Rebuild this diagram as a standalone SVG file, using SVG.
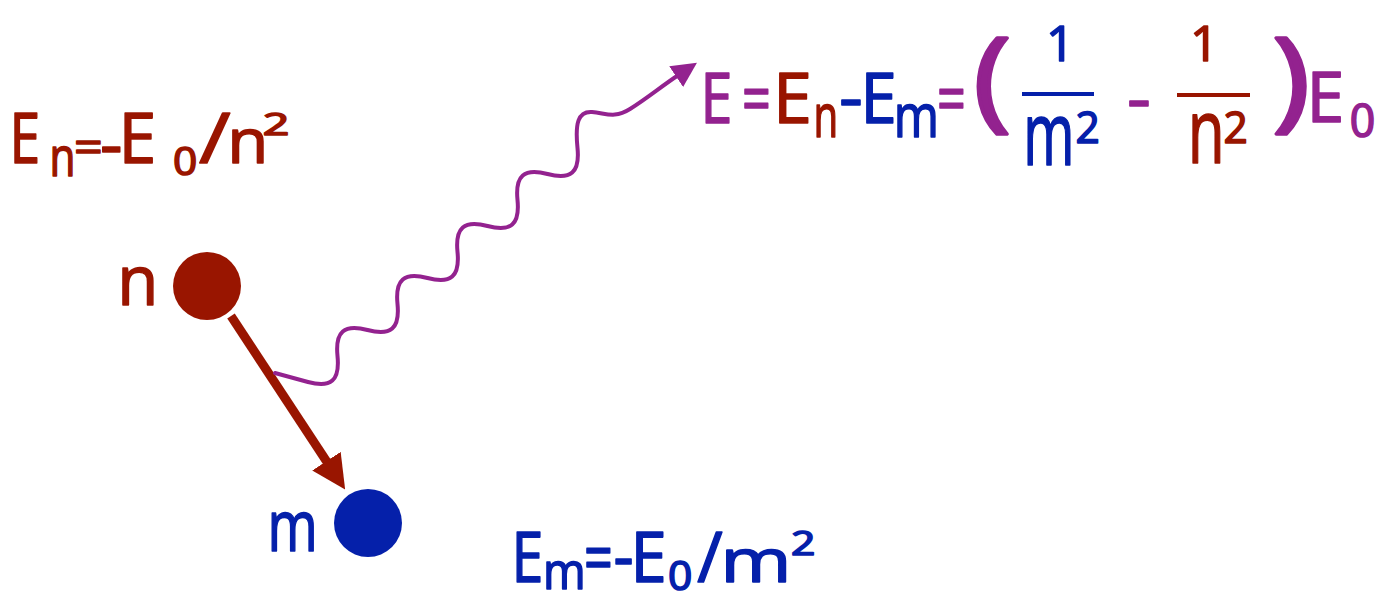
<svg xmlns="http://www.w3.org/2000/svg" width="1398" height="604" viewBox="0 0 1398 604">
<style>
  text { font-family: "Open Sans", "DejaVu Sans", sans-serif; stroke-width: 1.6; stroke-linejoin: round; stroke-linecap: round; }
  .red { fill: #991500; stroke: #991500; }
  .blue { fill: #0520AA; stroke: #0520AA; }
  .pur { fill: #93228F; stroke: #93228F; }
  .paren { stroke-width: 3.5; }
</style>
<defs>
  <marker id="headRed" viewBox="0 0 34 34" refX="1" refY="17" markerWidth="34" markerHeight="34" markerUnits="userSpaceOnUse" orient="auto">
    <path d="M0,0 L34,17 L0,34 z" fill="#991500"/>
  </marker>
  <marker id="headPur" viewBox="0 0 25 25" refX="1" refY="12.5" markerWidth="25" markerHeight="25" markerUnits="userSpaceOnUse" orient="auto">
    <path d="M0,0 L25,12.5 L0,25 z" fill="#93228F"/>
  </marker>
</defs>
<rect width="1398" height="604" fill="#ffffff"/>

<g id="connectors">
  <line id="transition" x1="231" y1="316" x2="327" y2="462" stroke="#991500" stroke-width="9" marker-end="url(#headRed)"/>
  <path id="photon" fill="none" stroke="#93228F" stroke-width="4" stroke-linecap="round" stroke-linejoin="round" marker-end="url(#headPur)"
    d="M275,373 L308,382 C331.1,388.3 339.95,380.5 337.5,356 C335.05,331.5 344.05,323.7 367.5,330
       c23.45,6.3 32.45,-1.5 30,-26 c-2.45,-24.5 6.55,-32.3 30,-26
       c23.45,6.3 32.45,-1.5 30,-26 c-2.45,-24.5 6.55,-32.3 30,-26
       c23.45,6.3 32.45,-1.5 30,-26 c-2.45,-24.5 6.55,-32.3 30,-26
       c23.45,6.3 32.45,-1.5 30,-26
       C575,123.5 578,111 592,112 C606,113 614,119 630,109 S662,86 677,76"/>
</g>

<g id="node-n">
  <circle cx="207" cy="286" r="34" fill="#991500"/>
  <text class="red" x="117.2" y="305" font-size="69" textLength="41.1" lengthAdjust="spacingAndGlyphs">n</text>
</g>

<g id="node-m">
  <circle cx="368" cy="523" r="34" fill="#0520AA"/>
  <text class="blue" x="267.4" y="551" font-size="71" textLength="50.2" lengthAdjust="spacingAndGlyphs">m</text>
</g>

<g id="label-En">
  <text class="red" x="9.6" y="163" font-size="70" textLength="30.7" lengthAdjust="spacingAndGlyphs">E</text>
  <text class="red" x="49.4" y="176" font-size="54" textLength="26" lengthAdjust="spacingAndGlyphs">n</text>
  <text class="red" x="74.1" y="163" font-size="45" textLength="28.8" lengthAdjust="spacingAndGlyphs">=</text>
  <text class="red" x="100" y="168" font-size="70" textLength="22.5" lengthAdjust="spacingAndGlyphs">-</text>
  <text class="red" x="118.4" y="163" font-size="70" textLength="37.8" lengthAdjust="spacingAndGlyphs">E</text>
  <text class="red" x="172.9" y="175" font-size="39" textLength="24.3" lengthAdjust="spacingAndGlyphs">0</text>
  <text class="red" x="199" y="163" font-size="70" textLength="31.6" lengthAdjust="spacingAndGlyphs">/</text>
  <text class="red" x="227.2" y="163" font-size="62" textLength="41.1" lengthAdjust="spacingAndGlyphs">n</text>
  <text class="red" x="262.7" y="135" font-size="31" textLength="26.6" lengthAdjust="spacingAndGlyphs">2</text>
</g>

<g id="label-Em">
  <text class="blue" x="511.4" y="582" font-size="70" textLength="31.9" lengthAdjust="spacingAndGlyphs">E</text>
  <text class="blue" x="543" y="589" font-size="52" textLength="42.7" lengthAdjust="spacingAndGlyphs">m</text>
  <text class="blue" x="584.1" y="582" font-size="70" textLength="28.8" lengthAdjust="spacingAndGlyphs">=</text>
  <text class="blue" x="613.5" y="580" font-size="70" textLength="20.1" lengthAdjust="spacingAndGlyphs">-</text>
  <text class="blue" x="630.6" y="582" font-size="70" textLength="36.2" lengthAdjust="spacingAndGlyphs">E</text>
  <text class="blue" x="667.9" y="590" font-size="40" textLength="24.3" lengthAdjust="spacingAndGlyphs">0</text>
  <text class="blue" x="697.3" y="582" font-size="70" textLength="25.4" lengthAdjust="spacingAndGlyphs">/</text>
  <text class="blue" x="720.4" y="582" font-size="60" textLength="70.9" lengthAdjust="spacingAndGlyphs">m</text>
  <text class="blue" x="790.9" y="555" font-size="32" textLength="24.3" lengthAdjust="spacingAndGlyphs">2</text>
</g>

<g id="formula">
  <text class="pur" x="700.4" y="123" font-size="70" textLength="31.9" lengthAdjust="spacingAndGlyphs">E</text>
  <text class="pur" x="742.1" y="123" font-size="70" textLength="28.8" lengthAdjust="spacingAndGlyphs">=</text>
  <text class="red" x="773.1" y="123" font-size="70" textLength="38.9" lengthAdjust="spacingAndGlyphs">E</text>
  <text class="red" x="813.5" y="137" font-size="60" textLength="24.7" lengthAdjust="spacingAndGlyphs">n</text>
  <text class="blue" x="839" y="121" font-size="70" textLength="23.9" lengthAdjust="spacingAndGlyphs">-</text>
  <text class="blue" x="860.6" y="123" font-size="70" textLength="36.2" lengthAdjust="spacingAndGlyphs">E</text>
  <text class="blue" x="893.8" y="137" font-size="60" textLength="45.2" lengthAdjust="spacingAndGlyphs">m</text>
  <text class="pur" x="937.1" y="123" font-size="70" textLength="28.8" lengthAdjust="spacingAndGlyphs">=</text>
  <text class="pur paren" x="973.4" y="117" font-size="110" textLength="37.3" lengthAdjust="spacingAndGlyphs">(</text>
  <text class="blue" x="1046" y="61" font-size="50">1</text>
  <line x1="1022" y1="94" x2="1094" y2="94" stroke="#0520AA" stroke-width="4"/>
  <text class="blue" x="1023.3" y="165" font-size="88" textLength="51.2" lengthAdjust="spacingAndGlyphs">m</text>
  <text class="blue" x="1075.5" y="143" font-size="43" textLength="24.3" lengthAdjust="spacingAndGlyphs">2</text>
  <text class="pur" x="1127" y="122" font-size="70" textLength="23.9" lengthAdjust="spacingAndGlyphs">-</text>
  <text class="red" x="1190" y="61" font-size="50">1</text>
  <line x1="1177" y1="95" x2="1250" y2="95" stroke="#991500" stroke-width="4"/>
  <text class="red" x="1187.8" y="163" font-size="90" textLength="37" lengthAdjust="spacingAndGlyphs">n</text>
  <text class="red" x="1223.5" y="143" font-size="43" textLength="24.3" lengthAdjust="spacingAndGlyphs">2</text>
  <text class="pur paren" x="1272.6" y="117" font-size="110" textLength="37.3" lengthAdjust="spacingAndGlyphs">)</text>
  <text class="pur" x="1306.4" y="122" font-size="70" textLength="37.8" lengthAdjust="spacingAndGlyphs">E</text>
  <text class="pur" x="1349.8" y="137" font-size="45" textLength="25.5" lengthAdjust="spacingAndGlyphs">0</text>
</g>
</svg>
